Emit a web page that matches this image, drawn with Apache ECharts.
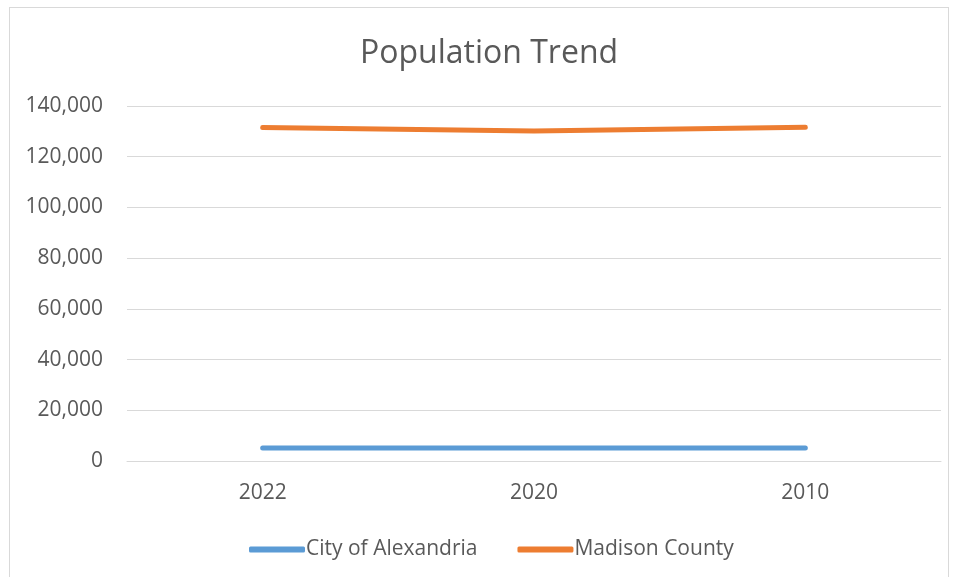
<!DOCTYPE html>
<html>
<head>
<meta charset="utf-8">
<script src="https://cdn.jsdelivr.net/npm/echarts@6/dist/echarts.min.js"></script>
<style>
html,body{margin:0;padding:0;background:#fff;}
#frame{position:absolute;left:9px;top:7px;width:940px;height:580px;border:1px solid #d9d9d9;box-sizing:border-box;}
#chart{position:absolute;left:0;top:0;width:954px;height:577px;}
</style>
</head>
<body>
<div id="frame"></div>
<div id="chart"></div>
<script>
const categories = ['2022', '2020', '2010'];
const alexandria = [5150, 5149, 5145];
const madison = [131500, 130129, 131636];
const yTicks = [0, 20000, 40000, 60000, 80000, 100000, 120000, 140000];

const font = '"Open Sans", Lato, sans-serif';
const chart = echarts.init(document.getElementById('chart'));
chart.setOption({
  animation: false,
  title: {
    text: 'Population Trend',
    left: 355,
    top: 33,
    textStyle: {fontFamily: font, fontSize: 32, fontWeight: 'normal', color: '#595959'}
  },
  grid: {left: 127, right: 13, top: 106, bottom: 116, containLabel: false},
  legend: {
    top: 534,
    left: 244,
    itemWidth: 56,
    itemHeight: 6,
    itemGap: 40,
    icon: 'roundRect',
    textStyle: {fontFamily: font, fontSize: 21, color: '#595959', padding: [0, 0, 0, -4]},
    data: ['City of Alexandria', 'Madison County']
  },
  xAxis: {
    type: 'category',
    data: categories,
    boundaryGap: true,
    axisLine: {show: true, lineStyle: {color: '#d9d9d9', width: 1}},
    axisTick: {show: false},
    axisLabel: {fontFamily: font, fontSize: 21, color: '#595959', margin: 22}
  },
  yAxis: {
    type: 'value',
    min: yTicks[0],
    max: yTicks[yTicks.length - 1],
    interval: 20000,
    axisLine: {show: false},
    axisTick: {show: false},
    splitLine: {lineStyle: {color: '#d9d9d9', width: 1}},
    axisLabel: {
      fontFamily: font, fontSize: 21, color: '#595959', margin: 24,
      formatter: v => v.toLocaleString('en-US')
    }
  },
  series: [
    {
      name: 'City of Alexandria', type: 'line', data: alexandria,
      symbol: 'none', color: '#5b9bd5',
      lineStyle: {width: 5, cap: 'round', join: 'round'}
    },
    {
      name: 'Madison County', type: 'line', data: madison,
      symbol: 'none', color: '#ed7d31',
      lineStyle: {width: 5, cap: 'round', join: 'round'}
    }
  ]
});
</script>
</body>
</html>
